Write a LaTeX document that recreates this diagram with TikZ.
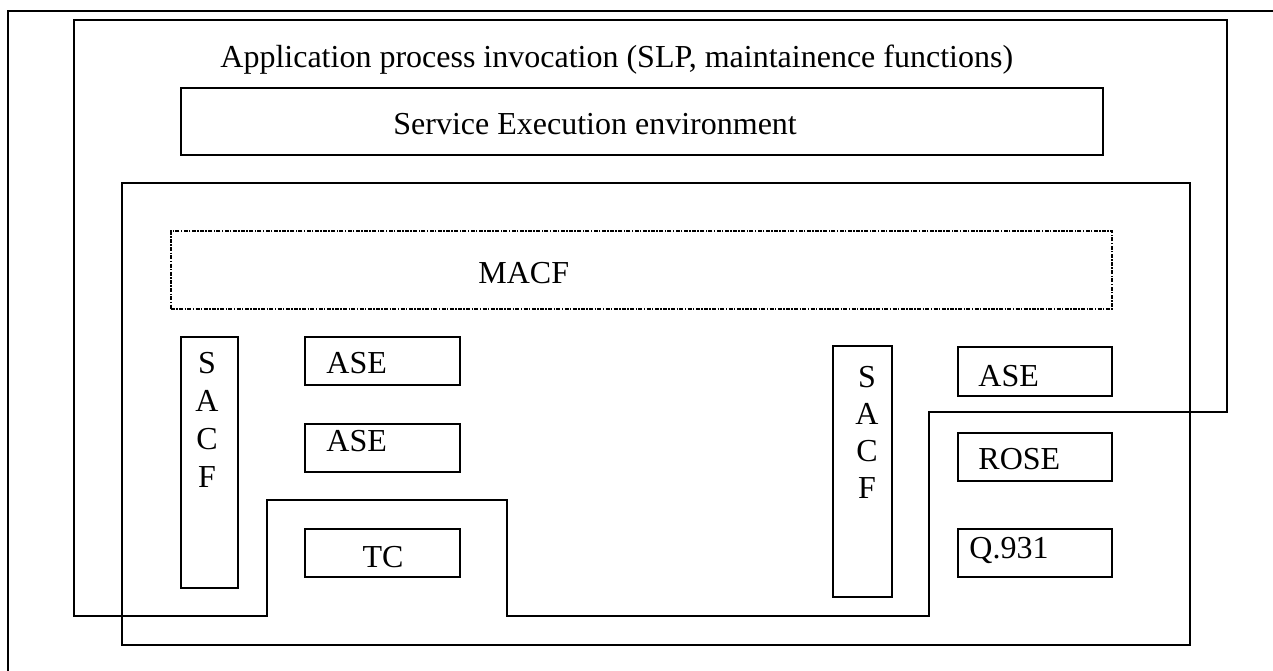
\documentclass[tikz,border=0pt]{standalone}
\usepackage{fontspec}
\setmainfont{Liberation Serif}
\usepackage{tikz}
\tikzstyle{blk}=[draw, rectangle, line width=1.2pt, inner sep=0pt]
\tikzstyle{lbl}=[inner sep=0pt, font=\fontsize{16}{19}\selectfont]
\tikzstyle{frame}=[line width=1.2pt, line join=miter]

\begin{document}
\begin{tikzpicture}[x=0.5pt,y=-0.5pt]
\useasboundingbox (0,0) rectangle (1273,670);
\clip (0,0) rectangle (1273,670);
% outer frame and application process outline
\draw[frame] (1290,11) -- (8,11) -- (8,690);
\draw[frame] (74,20) -- (1227,20) -- (1227,412) -- (929,412) -- (929,616) -- (507,616) -- (507,500) -- (267,500) -- (267,616) -- (74,616) -- cycle;
\node[lbl, anchor=base west] (apitxt) at (220,67) {Application process invocation (SLP, maintainence functions)};
% service execution environment
\node[blk, minimum width=461pt, minimum height=33.5pt] (see) at (642,121.5) {};
\node[lbl, anchor=base west] (seetxt) at (393,134) {Service Execution environment};
% application entity
\node[blk, minimum width=534pt, minimum height=231pt] (ae) at (656,414) {};
\node[draw, rectangle, inner sep=0pt, line width=1pt, dash pattern=on 2pt off 0.7pt on 0.7pt off 0.7pt, minimum width=470.5pt, minimum height=39pt] (macf) at (641.5,270) {};
\node[lbl, anchor=base west] (macftxt) at (478,283) {MACF};
% left side
\node[blk, minimum width=28.5pt, minimum height=125.5pt] (sacfL) at (209.5,462.5) {};
\foreach \l [count=\i] in {S,A,C,F}
  \node[lbl, anchor=base] (sacfL\i) at (207,335+38*\i) {\l};
\node[blk, minimum width=77.5pt, minimum height=24pt] (aseA) at (382.5,361) {};
\node[lbl, anchor=base west] (aseAtxt) at (326,373) {ASE};
\node[blk, minimum width=77.5pt, minimum height=24pt] (aseB) at (382.5,448) {};
\node[lbl, anchor=base west] (aseBtxt) at (326,451) {ASE};
\node[blk, minimum width=77.5pt, minimum height=24pt] (tc) at (382.5,553) {};
\node[lbl, anchor=base] (tctxt) at (383,567) {TC};
% right side
\node[blk, minimum width=29.5pt, minimum height=125.5pt] (sacfR) at (862.5,471.5) {};
\foreach \l [count=\i] in {S,A,C,F}
  \node[lbl, anchor=base] (sacfR\i) at (867,350+37*\i) {\l};
\node[blk, minimum width=77pt, minimum height=24.5pt] (aseC) at (1035,371.5) {};
\node[lbl, anchor=base west] (aseCtxt) at (978,386) {ASE};
\node[blk, minimum width=77pt, minimum height=24pt] (rose) at (1035,457) {};
\node[lbl, anchor=base west] (rosetxt) at (978,469) {ROSE};
\node[blk, minimum width=77pt, minimum height=24pt] (qsig) at (1035,553) {};
\node[lbl, anchor=base west] (qsigtxt) at (969,558) {Q.931};
\end{tikzpicture}
\end{document}
